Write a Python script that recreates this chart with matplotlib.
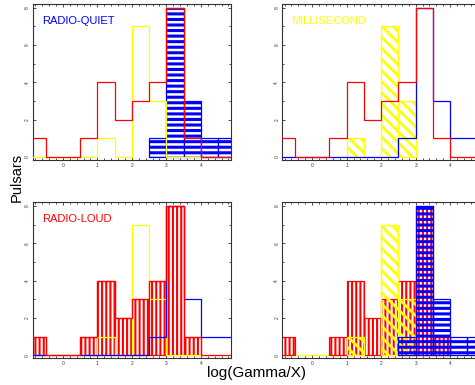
import matplotlib
matplotlib.use("Agg")
import matplotlib.pyplot as plt
import numpy as np
from matplotlib.ticker import MultipleLocator

# Histogramm-Klassen (Breite 0.5 in log(Gamma/X))
bin_edges = [-1.0, -0.5, 0.0, 0.5, 1.0, 1.5, 2.0, 2.5, 3.0, 3.5, 4.0, 4.5, 5.0]
radio_loud = [1, 0, 0, 1, 4, 2, 3, 4, 8, 1, 0, 0]
radio_quiet = [0, 0, 0, 0, 0, 0, 0, 1, 8, 3, 1, 1]
millisecond = [0, 0, 0, 0, 1, 0, 7, 3, 0, 0, 0, 0]

plt.rcParams['font.family'] = ['Liberation Sans', 'DejaVu Sans']

RED, BLUE, YEL = '#ff0000', '#0000ff', '#ffff00'
edges = np.array(bin_edges)

# name -> (werte, farbe, schraffur, hatch-linienbreite)
sets = {
    'loud': (radio_loud, RED, '||||', 1.5),
    'msp': (millisecond, YEL, '\\\\\\', 2.0),
    'quiet': (radio_quiet, BLUE, '---', 2.2),
}

fig = plt.figure(figsize=(4.75, 3.85), dpi=100)
w, h = 0.417, 0.405
pos = [(0.069, 0.585), (0.594, 0.585), (0.069, 0.070), (0.594, 0.070)]
axes = [fig.add_axes([x, y, w, h]) for x, y in pos]


def hatched(ax, key, face='white'):
    vals, col, hatch, hlw = sets[key]
    vals = np.array(vals)
    nz = vals > 0  # leere Klassen nicht als Balken zeichnen
    with plt.rc_context({'hatch.linewidth': hlw}):
        bars = ax.bar(edges[:-1][nz], vals[nz], width=0.5, align='edge',
                      facecolor=face, edgecolor=col, hatch=hatch, lw=0.9,
                      zorder=2)
    for b in bars:
        if hasattr(b, 'set_hatch_linewidth'):
            b.set_hatch_linewidth(hlw)


def outline(ax, key, z=3):
    vals, col, _, _ = sets[key]
    ax.stairs(vals, edges, color=col, lw=0.9, zorder=z)


# oben links: radio-quiet
ax = axes[0]
hatched(ax, 'quiet')
outline(ax, 'msp')
outline(ax, 'loud')
ax.text(0.045, 0.87, 'RADIO-QUIET', color=BLUE, fontsize=8, transform=ax.transAxes)

# oben rechts: millisecond
ax = axes[1]
hatched(ax, 'msp')
outline(ax, 'quiet')
outline(ax, 'loud')
ax.text(0.045, 0.87, 'MILLISECOND', color=YEL, fontsize=8, transform=ax.transAxes)

# unten links: radio-loud
ax = axes[2]
hatched(ax, 'loud')
outline(ax, 'msp')
outline(ax, 'quiet')
outline(ax, 'loud')
ax.text(0.045, 0.87, 'RADIO-LOUD', color=RED, fontsize=8, transform=ax.transAxes)

# unten rechts: alle zusammen
ax = axes[3]
outline(ax, 'msp', z=1)
hatched(ax, 'loud', face='none')
hatched(ax, 'msp', face='none')
hatched(ax, 'quiet', face='none')

for ax in axes:
    ax.set_xlim(-0.87, 4.87)
    ax.set_ylim(-0.15, 8.2)
    ax.xaxis.set_major_locator(MultipleLocator(1))
    ax.xaxis.set_minor_locator(MultipleLocator(0.2))
    ax.yaxis.set_major_locator(MultipleLocator(2))
    ax.yaxis.set_minor_locator(MultipleLocator(1))
    ax.tick_params(which='both', direction='in', top=True, right=True,
                   width=0.6, colors='#333333', labelsize=3.5, pad=2)
    ax.tick_params(which='major', length=2.5)
    ax.tick_params(which='minor', length=1.5)
    for lab in ax.get_yticklabels():
        lab.set_rotation(90)
        lab.set_va('center')
    for s in ax.spines.values():
        s.set_linewidth(0.8)
        s.set_color('#333333')

fig.text(0.036, 0.54, 'Pulsars', rotation=90, fontsize=10.5, ha='center', va='center')
fig.text(0.541, 0.03, 'log(Gamma/X)', fontsize=11, ha='center', va='center')

plt.savefig('out.png', dpi=100)
